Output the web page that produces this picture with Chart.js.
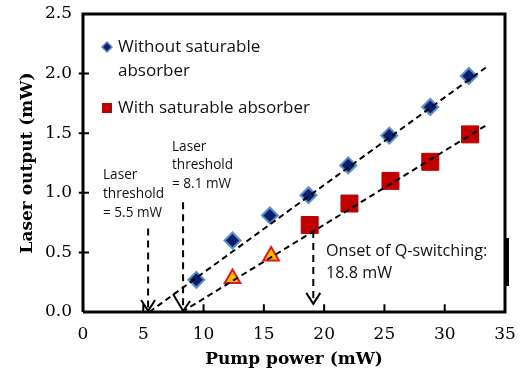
<!DOCTYPE html>
<html>
<head>
<meta charset="utf-8">
<script src="https://cdn.jsdelivr.net/npm/chart.js@4/dist/chart.umd.min.js"></script>
</head>
<body style="margin:0">
<canvas id="laserChart" width="522" height="375"></canvas>
<script>
// measured points (pump power mW, laser output mW)
const withoutX = [9.4, 12.4, 15.5, 18.7, 22.0, 25.4, 28.8, 32.0];
const withoutY = [0.27, 0.60, 0.81, 0.98, 1.23, 1.48, 1.72, 1.98];
const withX = [18.8, 22.1, 25.5, 28.8, 32.1];
const withY = [0.73, 0.91, 1.10, 1.26, 1.49];
const belowX = [12.4, 15.6];
const belowY = [0.28, 0.47];

// linear fits (end points)
const fitWithoutX = [5.5, 33.4];
const fitWithoutY = [0, 2.05];
const fitWithX = [8.2, 33.5];
const fitWithY = [0, 1.57];

// vertical arrows: x, top y, tip y
const arrowX = [5.4, 8.3, 19.1];
const arrowTop = [0.70, 0.92, 0.68];
const arrowTip = [0.0, 0.0, 0.06];

const xTicks = [0, 5, 10, 15, 20, 25, 30, 35];
const yTicks = [0, 0.5, 1.0, 1.5, 2.0, 2.5];
const xMax = 35;
const yMax = 2.5;

const toPts = (xs, ys) => xs.map((x, i) => ({ x: x, y: ys[i] }));

// frame and tick marks as line segments (null breaks the line)
const framePts = [
  { x: 0, y: 0 }, { x: xMax, y: 0 }, { x: xMax, y: yMax }, { x: 0, y: yMax }, { x: 0, y: 0 },
];
const tickPts = [];
xTicks.slice(1, -1).forEach((v) => {
  tickPts.push({ x: v, y: 0 }, { x: v, y: 0.065 }, { x: v, y: null });
});
yTicks.slice(1, -1).forEach((v) => {
  tickPts.push({ x: -0.35, y: v }, { x: 0.5, y: v }, { x: null, y: null });
});

const NAVY = "#0b1f6b";
const LIGHTBLUE = "#5d8fd0";
const RED = "#c00000";
const INK = "#000000";

const extras = {
  id: "extras",
  afterDraw(chart) {
    const ctx = chart.ctx;
    const xs = chart.scales.x, ys = chart.scales.y;
    ctx.save();
    ctx.setLineDash([]);
    ctx.strokeStyle = INK;
    ctx.fillStyle = INK;

    // arrows
    ctx.lineWidth = 2;
    arrowX.forEach((v, i) => {
      const px = xs.getPixelForValue(v);
      const top = ys.getPixelForValue(arrowTop[i]);
      const tip = ys.getPixelForValue(arrowTip[i]) - 1;
      ctx.setLineDash([7, 5]);
      ctx.beginPath();
      ctx.moveTo(px, top);
      ctx.lineTo(px, tip - 2);
      ctx.stroke();
      ctx.setLineDash([]);
      ctx.beginPath();
      if (i === 1) {
        ctx.moveTo(px - 10, tip - 17);
        ctx.lineTo(px, tip);
        ctx.lineTo(px + 7, tip - 10);
      } else {
        ctx.moveTo(px - 7, tip - 11);
        ctx.lineTo(px, tip);
        ctx.lineTo(px + 7, tip - 11);
      }
      ctx.stroke();
    });

    // thicker bit on the right border
    ctx.fillRect(xs.getPixelForValue(xMax) - 1, 238, 5, 48);

    // legend
    ctx.fillStyle = NAVY;
    ctx.strokeStyle = LIGHTBLUE;
    ctx.lineWidth = 1.5;
    ctx.beginPath();
    ctx.moveTo(107, 42);
    ctx.lineTo(112, 47);
    ctx.lineTo(107, 52);
    ctx.lineTo(102, 47);
    ctx.closePath();
    ctx.fill();
    ctx.stroke();
    ctx.fillStyle = RED;
    ctx.fillRect(102, 103, 10, 10);

    ctx.fillStyle = "#111";
    ctx.textBaseline = "middle";
    ctx.textAlign = "left";
    ctx.font = "17px 'Open Sans'";
    ctx.fillText("Without saturable", 118, 47);
    ctx.fillText("absorber", 118, 71);
    ctx.fillText("With saturable absorber", 118, 108);

    // annotations
    ctx.font = "13.6px 'Open Sans'";
    ctx.fillText("Laser", 172, 147);
    ctx.fillText("threshold", 172, 165);
    ctx.fillText("= 8.1 mW", 172, 184);
    ctx.fillText("Laser", 103, 175);
    ctx.fillText("threshold", 103, 194);
    ctx.fillText("= 5.5 mW", 103, 213);
    ctx.font = "16.2px 'Open Sans'";
    ctx.fillText("Onset of Q-switching:", 326, 251);
    ctx.fillText("18.8 mW", 326, 273);
    ctx.restore();
  },
};

const dashed = {
  type: "line",
  showLine: true,
  borderColor: "#000",
  borderWidth: 2,
  borderDash: [6, 4],
  pointRadius: 0,
  fill: false,
};

new Chart(document.getElementById("laserChart"), {
  type: "scatter",
  data: {
    datasets: [
      {
        type: "line",
        label: "frame",
        data: framePts,
        showLine: true,
        borderColor: INK,
        borderWidth: 3,
        pointRadius: 0,
        fill: false,
        clip: false,
        order: 0,
      },
      {
        type: "line",
        label: "ticks",
        data: tickPts,
        showLine: true,
        spanGaps: false,
        borderColor: INK,
        borderWidth: 2,
        pointRadius: 0,
        fill: false,
        clip: false,
        order: 0,
      },
      Object.assign({ label: "fit without", data: toPts(fitWithoutX, fitWithoutY), order: 1 }, dashed),
      Object.assign({ label: "fit with", data: toPts(fitWithX, fitWithY), order: 1 }, dashed),
      {
        label: "Without saturable absorber",
        data: toPts(withoutX, withoutY),
        pointStyle: "rectRot",
        pointRadius: 8,
        backgroundColor: NAVY,
        borderColor: LIGHTBLUE,
        borderWidth: 2,
        order: 2,
      },
      {
        label: "With saturable absorber",
        data: toPts(withX, withY),
        pointStyle: "rect",
        pointRadius: 12,
        backgroundColor: RED,
        borderColor: RED,
        borderWidth: 1,
        order: 2,
      },
      {
        label: "below Q-switching",
        data: toPts(belowX, belowY),
        pointStyle: "triangle",
        pointRadius: 9,
        backgroundColor: "#ffc000",
        borderColor: "#e01b1b",
        borderWidth: 2,
        order: 2,
      },
    ],
  },
  options: {
    responsive: false,
    animation: false,
    layout: { padding: { top: 14, right: 17, left: 0, bottom: 0 } },
    plugins: { legend: { display: false }, tooltip: { enabled: false } },
    scales: {
      x: {
        type: "linear",
        min: 0,
        max: xMax,
        afterBuildTicks: (s) => { s.ticks = xTicks.map((v) => ({ value: v })); },
        afterFit: (s) => { s.height = 63; s.paddingLeft = 0; s.paddingRight = 0; },
        grid: { display: false, drawTicks: false },
        border: { display: false },
        ticks: { color: "#000", padding: 12, font: { family: "DejaVu Serif", size: 17 } },
        title: {
          display: true,
          text: "Pump power (mW)",
          color: "#000",
          padding: { top: 0, bottom: 5 },
          font: { family: "DejaVu Serif", size: 17, weight: "bold" },
        },
      },
      y: {
        type: "linear",
        min: 0,
        max: yMax,
        afterBuildTicks: (s) => { s.ticks = yTicks.map((v) => ({ value: v })); },
        afterFit: (s) => { s.width = 83; s.paddingTop = 0; s.paddingBottom = 0; },
        grid: { display: false, drawTicks: false },
        border: { display: false },
        ticks: {
          color: "#000",
          padding: 11,
          font: { family: "DejaVu Serif", size: 17 },
          callback: (v) => Number(v).toFixed(1),
        },
        title: {
          display: true,
          text: "Laser output (mW)",
          color: "#000",
          padding: { top: 17, bottom: 0 },
          font: { family: "DejaVu Serif", size: 17, weight: "bold" },
        },
      },
    },
  },
  plugins: [extras],
});
</script>
</body>
</html>
